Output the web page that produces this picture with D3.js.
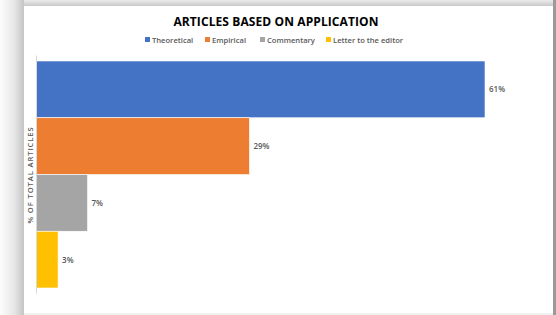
<!DOCTYPE html>
<html>
<head>
<meta charset="utf-8">
<script src="https://cdn.jsdelivr.net/npm/d3@7"></script>
<style>
  body { margin: 0; background: #fff; }
  svg { display: block; }
</style>
</head>
<body>
<div id="chart"></div>
<script>
const categories = ["Theoretical", "Empirical", "Commentary", "Letter to the editor"];
const values = [61, 29, 7, 3];
const colors = ["#4472C4", "#ED7D31", "#A5A5A5", "#FFC000"];

const W = 556, H = 315;
const panel = { x: 24, y: 6, w: 529, h: 307 };
const margin = { top: 61, left: 36, bottom: 27 };
const plotH = 288 - 61;

const svg = d3.select("#chart").append("svg")
    .attr("width", W)
    .attr("height", H);

const defs = svg.append("defs");
const leftGrad = defs.append("linearGradient").attr("id", "leftShadow")
    .attr("x1", "0%").attr("x2", "100%").attr("y1", "0%").attr("y2", "0%");
leftGrad.append("stop").attr("offset", "0%").attr("stop-color", "#fdfdfd");
leftGrad.append("stop").attr("offset", "60%").attr("stop-color", "#e6e6e6");
leftGrad.append("stop").attr("offset", "100%").attr("stop-color", "#c4c4c4");
const topGrad = defs.append("linearGradient").attr("id", "topShadow")
    .attr("x1", "0%").attr("x2", "0%").attr("y1", "0%").attr("y2", "100%");
topGrad.append("stop").attr("offset", "0%").attr("stop-color", "#ececec");
topGrad.append("stop").attr("offset", "100%").attr("stop-color", "#c8c8c8");

// page backdrop + shadow
svg.append("rect").attr("x", 0).attr("y", 0).attr("width", W).attr("height", H).attr("fill", "#fff");
svg.append("rect").attr("x", 0).attr("y", 0).attr("width", panel.x).attr("height", H).attr("fill", "url(#leftShadow)");
svg.append("rect").attr("x", panel.x).attr("y", 0).attr("width", W - panel.x).attr("height", panel.y).attr("fill", "url(#topShadow)");
svg.append("rect").attr("x", panel.x + panel.w).attr("y", 0).attr("width", W - panel.x - panel.w).attr("height", H).attr("fill", "#9a9a9a");
svg.append("rect").attr("x", panel.x).attr("y", panel.y + panel.h).attr("width", panel.w).attr("height", H - panel.y - panel.h).attr("fill", "#f0f0f0");
svg.append("rect").attr("x", panel.x).attr("y", panel.y).attr("width", panel.w).attr("height", panel.h).attr("fill", "#fff");

// title
svg.append("text")
    .attr("x", 276).attr("y", 26)
    .attr("text-anchor", "middle")
    .style("font-family", "'Open Sans', sans-serif")
    .style("font-weight", "bold")
    .style("font-size", "12px")
    .style("letter-spacing", "0.1px")
    .style("fill", "#000")
    .text("ARTICLES BASED ON APPLICATION");

// legend
const legendX = [145, 205, 260, 326];
const legend = svg.append("g");
categories.forEach((c, i) => {
    legend.append("rect")
        .attr("x", legendX[i]).attr("y", 37)
        .attr("width", 5).attr("height", 5)
        .attr("fill", colors[i]);
    legend.append("text")
        .attr("x", legendX[i] + 7).attr("y", 43)
        .style("font-family", "'Open Sans', sans-serif")
        .style("font-weight", "600")
        .style("font-size", "7.6px")
        .style("fill", "#595959")
        .text(c);
});

const x = d3.scaleLinear()
    .domain([0, 61])
    .range([margin.left, 485]);

const y = d3.scaleBand()
    .domain(categories)
    .range([margin.top, margin.top + plotH])
    .paddingInner(0)
    .paddingOuter(0);

svg.selectAll("rect.bar")
    .data(values)
    .enter().append("rect")
    .attr("class", "bar")
    .attr("x", x(0))
    .attr("y", (d, i) => y(categories[i]))
    .attr("width", d => x(d) - x(0))
    .attr("height", y.bandwidth())
    .attr("fill", (d, i) => colors[i])
    .attr("stroke", "#fff")
    .attr("stroke-width", 0.6);

svg.selectAll("text.val")
    .data(values)
    .enter().append("text")
    .attr("class", "val")
    .attr("x", d => x(d) + 4)
    .attr("y", (d, i) => y(categories[i]) + y.bandwidth() / 2 + 3)
    .style("font-family", "'Open Sans', sans-serif")
    .style("font-weight", "600")
    .style("font-size", "8px")
    .style("fill", "#595959")
    .text(d => d + "%");

// vertical axis line
svg.append("g")
    .attr("transform", `translate(${margin.left},0)`)
    .call(d3.axisLeft(d3.scaleLinear().range([margin.top - 6, 293])).ticks(0).tickSize(0))
    .call(g => g.select(".domain").attr("stroke", "#d9d9d9"));

// y axis title
svg.append("text")
    .attr("transform", `translate(33,175) rotate(-90)`)
    .attr("text-anchor", "middle")
    .style("font-family", "'Open Sans', sans-serif")
    .style("font-weight", "600")
    .style("font-size", "7.6px")
    .style("letter-spacing", "0.9px")
    .style("fill", "#595959")
    .text("% OF TOTAL ARTICLES");
</script>
</body>
</html>
